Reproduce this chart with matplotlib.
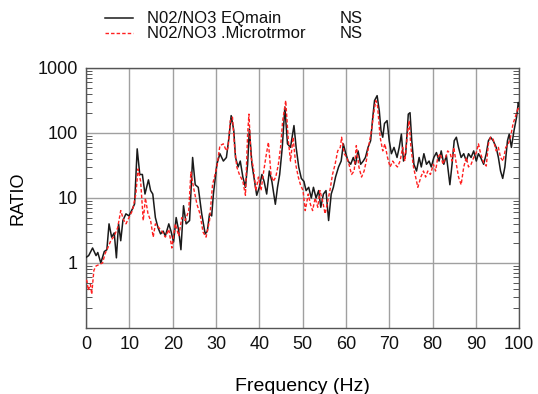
import matplotlib
matplotlib.use("Agg")
import matplotlib.pyplot as plt
from matplotlib.ticker import LogLocator, FixedLocator, NullFormatter

plt.rcParams['font.family'] = ['Liberation Sans', 'DejaVu Sans']

# Spectral ratio, earthquake main shock (solid)
eq_freq = [0.0, 0.6, 1.5, 2.3, 2.7, 3.4, 4.2, 4.8, 5.3, 5.9, 6.5, 7.0, 7.5, 8.0, 8.5,
           9.2, 9.9, 10.7, 11.2, 11.8, 12.4, 13.0, 13.6, 14.4, 14.9, 15.4, 16.0, 16.6,
           17.2, 17.8, 18.3, 19.1, 19.6, 20.2, 20.8, 21.4, 21.9, 22.5, 23.1, 23.9, 24.6,
           25.2, 25.9, 26.7, 27.5, 28.0, 28.5, 29.0, 29.4, 30.2, 30.9, 31.7, 32.4, 33.0,
           33.5, 34.1, 34.5, 35.1, 35.6, 36.2, 36.8, 37.3, 37.7, 38.3, 38.9, 39.4, 40.0,
           40.6, 41.1, 41.7, 42.3, 42.9, 43.7, 44.2, 44.7, 45.3, 45.9, 46.5, 47.2, 48.0,
           48.5, 49.1, 49.7, 50.3, 50.8, 51.4, 52.0, 52.5, 53.1, 53.7, 54.2, 54.8, 55.4,
           56.0, 56.6, 57.1, 57.6, 58.3, 58.9, 59.4, 59.9, 60.5, 61.1, 61.7, 62.2, 62.8,
           63.4, 64.0, 64.5, 65.1, 65.7, 66.2, 66.6, 67.2, 67.7, 68.1, 68.5, 68.9, 69.5,
           70.0, 70.5, 71.1, 71.8, 72.3, 72.8, 73.3, 73.8, 74.4, 74.8, 75.2, 75.7, 76.3,
           76.9, 77.4, 78.0, 78.6, 79.2, 79.7, 80.3, 80.9, 81.5, 82.0, 82.6, 83.2, 84.0,
           84.5, 85.0, 85.5, 86.0, 86.6, 87.2, 87.8, 88.3, 88.9, 89.5, 90.1, 90.6, 91.1,
           91.8, 92.4, 92.9, 93.4, 94.0, 94.7, 95.2, 95.7, 96.2, 96.7, 97.3, 97.7, 98.2,
           98.8, 99.4, 99.8, 100.0]
eq_ratio = [1.22, 1.3, 1.7, 1.3, 1.45, 1.0, 1.5, 1.6, 4.0, 2.5, 2.9, 1.2, 4.0, 2.2, 4.5,
            5.7, 5.3, 6.8, 8.1, 57, 23, 23, 11.5, 19, 13, 11.5, 5.0, 3.5,
            2.8, 3.1, 2.6, 4.0, 3.1, 2.1, 5.0, 3.1, 1.6, 7.6, 4.0, 4.5, 42,
            16, 14.6, 5.7, 2.8, 3.1, 5.7, 5.3, 11.5, 33, 48, 37, 42, 86,
            185, 110, 42, 30, 37, 21, 14.6, 33, 115, 33, 18, 11, 14.6,
            23, 18, 11.5, 26, 18, 8.0, 14.6, 23, 60, 250, 68, 60, 130,
            60, 30, 20, 18, 13, 14.6, 10, 14.6, 10, 13, 7.2, 11.5, 13,
            4.5, 11.5, 14.6, 21, 30, 37, 68, 50, 37, 33, 42, 33, 53,
            33, 37, 42, 60, 76, 175, 315, 375, 220, 108, 86, 140, 155,
            76, 48, 60, 42, 60, 96, 37, 48, 195, 205, 76, 33, 26,
            42, 30, 48, 33, 37, 30, 42, 50, 37, 53, 33, 45, 16,
            33, 76, 86, 60, 42, 48, 37, 48, 42, 53, 37, 48, 42,
            33, 48, 76, 86, 76, 60, 42, 26, 20, 30, 76, 96, 60,
            108, 175, 295, 260]

# Spectral ratio, microtremor (dashed)
mt_freq = [0.0, 0.2, 0.5, 1.0, 1.3, 1.8, 2.3, 3.1, 3.8, 4.4, 5.0, 5.7, 6.5, 7.3, 8.0,
           8.6, 9.2, 9.9, 10.7, 11.5, 12.0, 12.6, 13.2, 13.7, 14.3, 14.9, 15.5, 16.0,
           16.8, 17.6, 18.3, 19.1, 19.8, 20.6, 21.4, 22.1, 22.9, 23.7, 24.2, 24.8, 25.6,
           26.3, 27.0, 27.7, 28.5, 29.2, 30.2, 30.9, 31.7, 32.4, 32.8, 33.3, 33.8, 34.3,
           34.8, 35.4, 36.2, 36.8, 37.3, 37.6, 38.1, 38.6, 39.2, 39.8, 40.4, 40.9, 41.5,
           42.1, 42.7, 43.2, 43.8, 44.4, 44.9, 45.4, 46.1, 46.7, 47.2, 47.8, 48.4, 49.0,
           49.5, 50.1, 50.6, 51.3, 51.8, 52.3, 52.9, 53.5, 54.0, 54.6, 55.2, 55.8, 56.3,
           56.9, 57.5, 58.1, 58.7, 59.0, 59.6, 60.2, 60.7, 61.3, 61.9, 62.4, 63.0, 63.6,
           64.2, 64.7, 65.2, 65.9, 66.5, 66.9, 67.3, 67.9, 68.5, 69.0, 69.6, 70.2, 70.8,
           71.3, 71.9, 72.5, 73.1, 73.6, 74.2, 74.6, 75.0, 75.6, 76.1, 76.6, 77.3, 77.9,
           78.4, 78.9, 79.5, 80.2, 80.7, 81.2, 81.8, 82.4, 83.0, 83.5, 84.1, 84.5, 84.9,
           85.5, 86.0, 86.6, 87.2, 87.8, 88.3, 88.9, 89.5, 90.1, 90.6, 91.1, 91.8, 92.4,
           92.9, 93.4, 94.0, 94.7, 95.2, 95.7, 96.3, 96.9, 97.5, 98.0, 98.6, 99.1, 99.8,
           100.0]
mt_ratio = [0.55, 0.53, 0.38, 0.47, 0.33, 0.77, 0.9, 0.95, 1.0, 1.4, 1.7, 2.2, 2.6, 3.5, 6.4,
            4.7, 4.0, 5.0, 6.4, 11.5, 28, 18, 4.5, 10, 5.7, 4.5, 2.5, 4.0,
            3.5, 3.0, 2.5, 3.3, 1.7, 4.0, 2.6, 5.0, 4.5, 6.4, 25, 14.6, 8.0,
            5.7, 3.0, 2.5, 4.5, 16, 30, 64, 68, 53, 60, 155, 175, 60,
            30, 23, 18, 11, 96, 195, 42, 30, 13, 21, 13, 23, 42,
            72, 23, 18, 21, 33, 60, 155, 315, 76, 37, 86, 33, 21,
            16, 13, 6.4, 11.5, 8.0, 6.4, 10, 7.2, 13, 9.0, 5.7, 9.0, 13,
            23, 33, 53, 60, 86, 48, 42, 33, 23, 26, 64, 30, 21,
            26, 37, 60, 110, 220, 315, 260, 86, 53, 68, 42, 30, 37,
            33, 30, 37, 60, 37, 96, 155, 60, 30, 21, 14.6, 21, 26,
            21, 26, 23, 33, 26, 42, 48, 33, 42, 53, 48, 37, 60,
            33, 21, 16, 30, 42, 30, 33, 42, 50, 68, 48, 35, 31,
            68, 86, 80, 53, 60, 42, 37, 60, 68, 86, 140, 175, 250,
            230]

x_ticks = [0, 10, 20, 30, 40, 50, 60, 70, 80, 90, 100]
y_ticks = [1, 10, 100, 1000]
y_tick_labels = ['1', '10', '100', '1000']
legend_labels = ['N02/NO3 EQmain', 'N02/NO3 .Microtrmor']
component = 'NS'

fig = plt.figure(figsize=(5.38, 3.94), dpi=100)
ax = fig.add_axes([0.160, 0.1675, 0.805, 0.66])

ax.plot(eq_freq, eq_ratio, color='#1a1a1a', lw=1.1, solid_joinstyle='round', zorder=3)
ax.plot(mt_freq, mt_ratio, color='#ff2020', lw=1.0, linestyle=(0, (2.5, 1.5)), zorder=4)

ax.set_yscale('log')
ax.set_xlim(0, 100)
ax.set_ylim(0.1, 1000)

ax.xaxis.set_major_locator(FixedLocator(x_ticks))
ax.set_xticklabels([str(t) for t in x_ticks])
ax.yaxis.set_major_locator(FixedLocator(y_ticks))
ax.set_yticklabels(y_tick_labels)
ax.yaxis.set_minor_locator(LogLocator(base=10, subs=range(2, 10)))
ax.yaxis.set_minor_formatter(NullFormatter())

ax.grid(True, which='major', color='#a0a0a0', lw=1.0, zorder=0)
ax.tick_params(axis='both', which='major', length=0, labelsize=13, pad=6, colors='#111111')
ax.tick_params(axis='y', which='minor', direction='in', length=4, width=0.7,
               left=True, right=True, color='#555555')
ax.tick_params(axis='y', which='major', right=False)

for sp in ax.spines.values():
    sp.set_color('#555555')
    sp.set_linewidth(1.0)

ax.set_xlabel('Frequency (Hz)', fontsize=14, labelpad=18)
ax.set_ylabel('RATIO', fontsize=13, labelpad=8)

# Legend drawn as figure text with line samples
leg_y = [0.954, 0.916]
fig.add_artist(plt.Line2D([0.195, 0.247], [leg_y[0], leg_y[0]], color='#1a1a1a', lw=1.1,
                          transform=fig.transFigure))
fig.add_artist(plt.Line2D([0.195, 0.247], [leg_y[1], leg_y[1]], color='#ff2020', lw=1.0,
                          linestyle=(0, (2.5, 1.5)), transform=fig.transFigure))
for y, lab in zip(leg_y, legend_labels):
    fig.text(0.273, y, lab, fontsize=12, va='center', ha='left', color='#111111')
    fig.text(0.632, y, component, fontsize=12, va='center', ha='left', color='#111111')

fig.savefig('out.png', dpi=100)
